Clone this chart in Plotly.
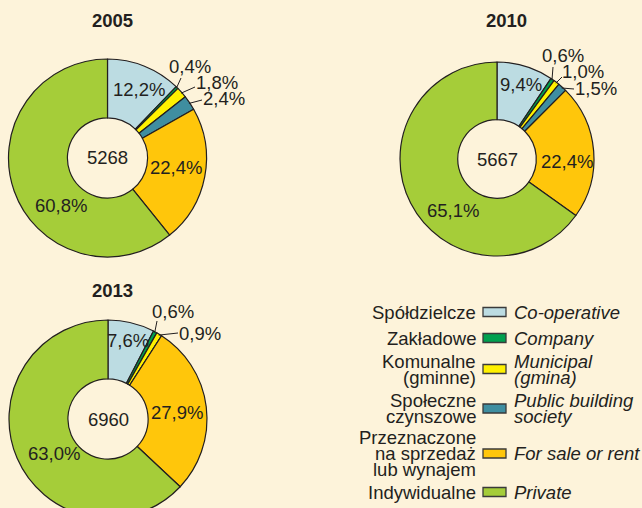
import math
import plotly.graph_objects as go

# ---------------- data ----------------
years = ["2005", "2010", "2013"]
totals = [5268, 5667, 6960]
categories_pl = ["Spółdzielcze", "Zakładowe", "Komunalne\n(gminne)", "Społeczne\nczynszowe",
                 "Przeznaczone\nna sprzedaż\nlub wynajem", "Indywidualne"]
categories_en = ["Co-operative", "Company", "Municipal\n(gmina)", "Public building\nsociety",
                 "For sale or rent", "Private"]
share_2005 = [12.2, 0.4, 1.8, 2.4, 22.4, 60.8]
share_2010 = [9.4, 0.6, 1.0, 1.5, 22.4, 65.1]
share_2013 = [7.6, 0.6, 0.9, 0.0, 27.9, 63.0]
shares = [share_2005, share_2010, share_2013]

# ---------------- style / layout ----------------
W, H = 642, 530
BG = "#FDF3DA"
EDGE = "#231F20"
colors = ["#BCDCE2", "#00A04F", "#FFF100", "#3F8EA0", "#FFC60B", "#A5CD39"]
FONT = "Liberation Sans, Arial, sans-serif"
FS = 18.5

# pie geometry in pixels: centre x, centre y, outer radius
geom = [(107.5, 158, 99), (497, 159, 97), (108, 419, 99)]
title_pos = [(112, 21), (506, 21), (112, 290)]
# label placement relative to pie centre (pixels)
inside_off = [
    {0: (31.5, -68), 4: (68.5, 9), 5: (-46.5, 47)},
    {0: (24, -74), 4: (70, 3), 5: (-44, 51)},
    {0: (20, -79), 4: (69, -7), 5: (-54, 34)},
]
outside_off = [  # index: (label centre offset, leader-line end offset)
    {1: ((82.5, -91), (73.5, -80)), 2: ((109.5, -75), (87.5, -71)), 3: ((116.5, -59), (94.5, -58))},
    {1: ((66, -103), (56, -92)), 2: ((86, -87), (65, -82)), 3: ((99, -70), (77, -70))},
    {1: ((65, -108), (49, -98)), 2: ((92, -86), (70, -86))},
]


def px(x):
    return x / W


def py(y):
    return 1 - y / H


def fmt(v):
    return f"{v:.1f}".replace(".", ",") + "%"


def txt(text, x, y, anchor="center", size=FS):
    return dict(text=text, x=px(x), y=py(y), xref="paper", yref="paper", showarrow=False,
                xanchor=anchor, yanchor="middle",
                font=dict(family=FONT, size=size, color="#231F20"))


fig = go.Figure()
annotations = []
shapes = []

for k, (yr, tot, vals) in enumerate(zip(years, totals, shares)):
    cx, cy, r = geom[k]
    fig.add_trace(go.Pie(
        values=vals, labels=categories_en, sort=False, direction="clockwise", rotation=0,
        hole=0.405, textinfo="none", hoverinfo="label+percent", showlegend=False,
        marker=dict(colors=colors, line=dict(color=EDGE, width=1.2)),
        domain=dict(x=[px(cx - r), px(cx + r)], y=[py(cy + r), py(cy - r)]),
    ))
    tx, ty = title_pos[k]
    annotations.append(txt(f"<b>{yr}</b>", tx, ty))
    annotations.append(txt(str(tot), cx, cy))
    total = sum(vals)
    cum = 0.0
    for i, v in enumerate(vals):
        mid = (cum + v / 2) / total * 2 * math.pi
        cum += v
        if v <= 0:
            continue
        if i in inside_off[k]:
            dx, dy = inside_off[k][i]
            annotations.append(txt(fmt(v), cx + dx, cy + dy))
        elif i in outside_off[k]:
            (lx, ly), (ex, ey) = outside_off[k][i]
            sx = cx + (r - 1) * math.sin(mid)
            sy = cy - (r - 1) * math.cos(mid)
            shapes.append(dict(type="line", xref="paper", yref="paper",
                               x0=px(sx), y0=py(sy), x1=px(cx + ex), y1=py(cy + ey),
                               line=dict(color=EDGE, width=1)))
            annotations.append(txt(fmt(v), cx + lx, cy + ly))

# ---------------- bilingual legend ----------------
row_y = [312, 338, 369, 408.5, 453.5, 492]
LINE = 16
sw_x0, sw_x1, sw_h = 483, 506, 9
pl_right, en_left = 478, 512
for i, (pl, en) in enumerate(zip(categories_pl, categories_en)):
    yc = row_y[i]
    for text, xpos, anchor, italic in ((pl, pl_right, "right", False), (en, en_left, "left", True)):
        lines = text.split("\n")
        n = len(lines)
        for j, ln in enumerate(lines):
            yy = yc + (j - (n - 1) / 2) * LINE
            annotations.append(txt(f"<i>{ln}</i>" if italic else ln, xpos, yy, anchor=anchor))
    shapes.append(dict(type="rect", xref="paper", yref="paper",
                       x0=px(sw_x0), x1=px(sw_x1), y0=py(yc + sw_h / 2), y1=py(yc - sw_h / 2),
                       fillcolor=colors[i], line=dict(color="#3A3A3A", width=1.3)))

fig.update_layout(
    width=W, height=H, margin=dict(l=0, r=0, t=0, b=0),
    paper_bgcolor=BG, plot_bgcolor=BG,
    annotations=annotations, shapes=shapes,
)
fig.write_html(
    "out.html",
    config={"displayModeBar": False},
    post_script="document.body.style.margin='0px';document.body.style.overflow='hidden';",
)
